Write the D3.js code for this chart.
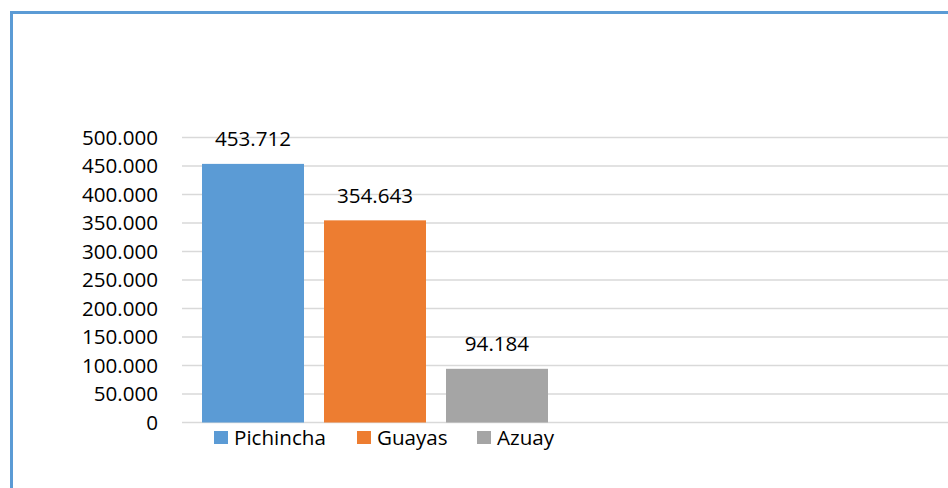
<!DOCTYPE html>
<html>
<head>
<meta charset="utf-8">
<script src="https://cdn.jsdelivr.net/npm/d3@7"></script>
<style>
  body { margin: 0; background: #fff; }
  svg { display: block; font-family: "Open Sans", sans-serif; }
</style>
</head>
<body>
<svg></svg>
<script>
// provincias y valores
var series = ["Pichincha", "Guayas", "Azuay"];
var values = [453712, 354643, 94184];
var colors = ["#5b9bd5", "#ed7d31", "#a5a5a5"];
var yTicks = [0, 50000, 100000, 150000, 200000, 250000, 300000, 350000, 400000, 450000, 500000];

var svgWidth = 948,
    svgHeight = 488,
    fontSize = 20.6;

var svg = d3.select('svg')
    .attr("width", svgWidth)
    .attr("height", svgHeight);

var locale = d3.formatLocale({decimal: ",", thousands: ".", grouping: [3], currency: ["", ""]});
var fmt = locale.format(",d");

var yScale = d3.scaleLinear()
    .domain([0, 500000])
    .range([422.5, 137.5]);

var xScale = d3.scaleBand()
    .domain(series)
    .range([202, 548])
    .paddingInner(20 / 122)
    .paddingOuter(0);

// outer frame (only left/top visible)
svg.append("rect")
    .attr("x", 11.5).attr("y", 12.5)
    .attr("width", 1000).attr("height", 600)
    .attr("fill", "none")
    .attr("stroke", "#5b9bd5")
    .attr("stroke-width", 3);

// gridlines
svg.selectAll("line.grid")
    .data(yTicks)
    .enter()
    .append("line")
    .attr("class", "grid")
    .attr("x1", 182).attr("x2", svgWidth)
    .attr("y1", function(d) { return yScale(d); })
    .attr("y2", function(d) { return yScale(d); })
    .attr("stroke", "#d9d9d9")
    .attr("stroke-width", 1.5);

// y labels
svg.selectAll("text.ylab")
    .data(yTicks)
    .enter()
    .append("text")
    .attr("class", "ylab")
    .attr("x", 158)
    .attr("y", function(d) { return yScale(d); })
    .attr("dy", "0.35em")
    .attr("text-anchor", "end")
    .attr("font-size", fontSize)
    .attr("fill", "#000")
    .text(function(d) { return fmt(d); });

// bars
svg.selectAll("rect.bar")
    .data(values)
    .enter()
    .append("rect")
    .attr("class", "bar")
    .attr("x", function(d, i) { return xScale(series[i]); })
    .attr("y", function(d) { return yScale(d); })
    .attr("width", xScale.bandwidth())
    .attr("height", function(d) { return yScale(0) - yScale(d); })
    .attr("fill", function(d, i) { return colors[i]; });

// value labels
svg.selectAll("text.val")
    .data(values)
    .enter()
    .append("text")
    .attr("class", "val")
    .attr("x", function(d, i) { return xScale(series[i]) + xScale.bandwidth() / 2; })
    .attr("y", function(d) { return yScale(d) - 25; })
    .attr("dy", "0.35em")
    .attr("text-anchor", "middle")
    .attr("font-size", fontSize)
    .attr("fill", "#000")
    .text(function(d) { return fmt(d); });

// legend
var legendX = [214, 357, 477];
var legend = svg.selectAll("g.leg")
    .data(series)
    .enter()
    .append("g")
    .attr("class", "leg")
    .attr("transform", function(d, i) { return "translate(" + legendX[i] + ",431)"; });

legend.append("rect")
    .attr("width", 14).attr("height", 13)
    .attr("fill", function(d, i) { return colors[i]; });

legend.append("text")
    .attr("x", 20)
    .attr("y", 7)
    .attr("dy", "0.35em")
    .attr("font-size", fontSize)
    .attr("fill", "#000")
    .text(function(d) { return d; });
</script>
</body>
</html>
